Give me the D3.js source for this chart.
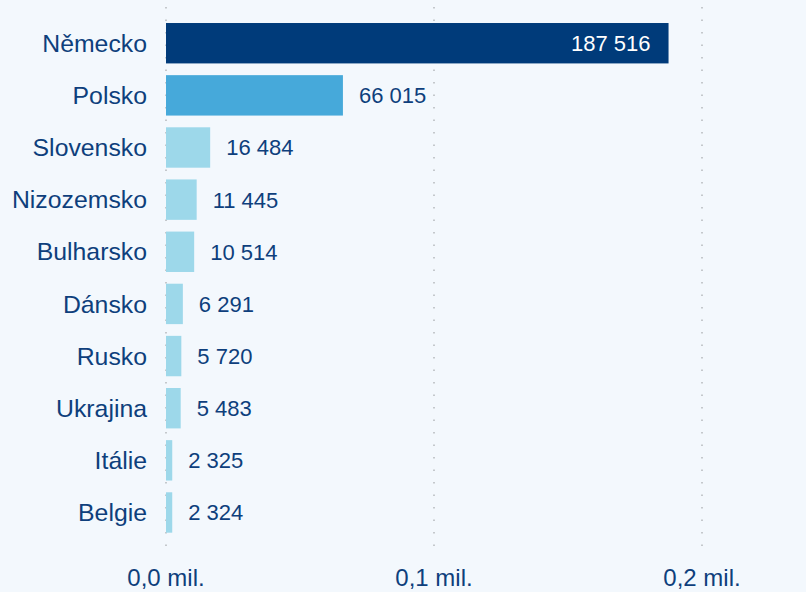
<!DOCTYPE html>
<html><head><meta charset="utf-8">
<script src="https://cdn.jsdelivr.net/npm/d3@7"></script>
<style>
html,body{margin:0;padding:0;background:#f3f8fd;}
svg{display:block;font-family:"Liberation Sans",Arial,sans-serif;}
</style></head><body>
<svg id="c" width="806" height="592"></svg>
<script>
const categories = ["Německo","Polsko","Slovensko","Nizozemsko","Bulharsko","Dánsko","Rusko","Ukrajina","Itálie","Belgie"];
const values = [187516,66015,16484,11445,10514,6291,5720,5483,2325,2324];
const barColors = ["#003b7a","#46a9da","#9dd8ea","#9dd8ea","#9dd8ea","#9dd8ea","#9dd8ea","#9dd8ea","#9dd8ea","#9dd8ea"];
const tickValues = [0,100000,200000];
const tickLabels = ["0,0 mil.","0,1 mil.","0,2 mil."];

const svg = d3.select("#c");
const x = d3.scaleLinear().domain([0,200000]).range([166,702]);
const y = d3.scaleBand().domain(categories).range([17.8,537.9]).paddingInner(0.225).paddingOuter(0.1);
const fmt = v => d3.format(",")(v).replace(/,/g," ");
const textColor = "#0e3f7c";

// grid
svg.append("g").selectAll("line").data(tickValues).join("line")
  .attr("x1",d=>x(d)).attr("x2",d=>x(d)).attr("y1",7).attr("y2",553)
  .attr("stroke","#c4c8cc").attr("stroke-width",2).attr("stroke-dasharray","1.6,10.9");

// bars
svg.append("g").selectAll("rect").data(values).join("rect")
  .attr("x",x(0)).attr("y",(d,i)=>y(categories[i]))
  .attr("width",d=>x(d)-x(0)).attr("height",y.bandwidth())
  .attr("fill",(d,i)=>barColors[i]);

// category labels
svg.append("g").selectAll("text").data(categories).join("text")
  .attr("x",147).attr("y",d=>y(d)+y.bandwidth()/2).attr("dy","0.35em")
  .attr("text-anchor","end").attr("font-size",24.8).attr("fill",textColor).text(d=>d);

// value labels
svg.append("g").selectAll("text").data(values).join("text")
  .attr("x",(d,i)=> i===0 ? x(d)-18 : x(d)+16)
  .attr("y",(d,i)=>y(categories[i])+y.bandwidth()/2).attr("dy","0.36em")
  .attr("text-anchor",(d,i)=> i===0 ? "end":"start")
  .attr("font-size",22).attr("fill",(d,i)=> i===0 ? "#ffffff" : textColor).text(d=>fmt(d));

// axis labels
svg.append("g").selectAll("text").data(tickValues).join("text")
  .attr("x",d=>x(d)).attr("y",578).attr("dy","0.35em").attr("text-anchor","middle")
  .attr("font-size",24).attr("fill",textColor).text((d,i)=>tickLabels[i]);
</script></body></html>
